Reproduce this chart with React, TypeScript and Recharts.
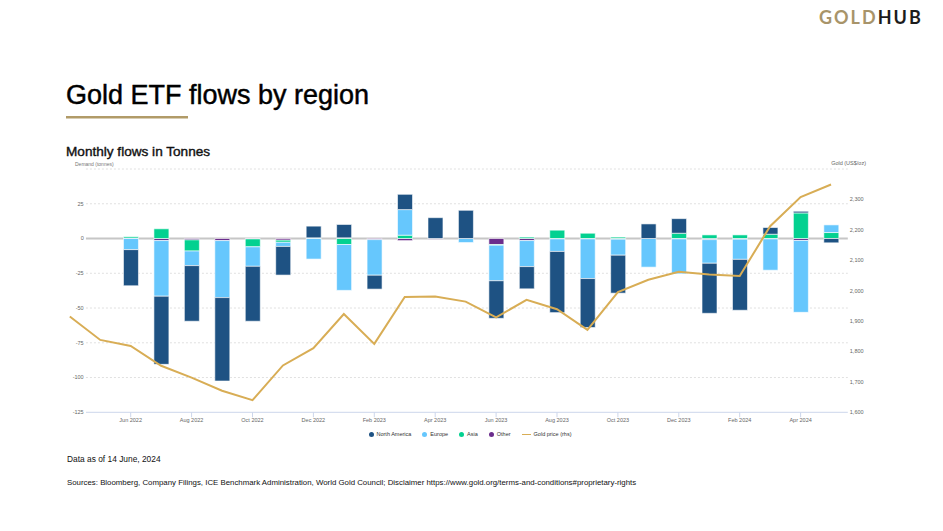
import React from "react";
import { ComposedChart, Bar, Line, XAxis, YAxis, CartesianGrid } from "recharts";

const FONT = "'Liberation Sans', Arial, Helvetica, sans-serif";

// months on the x axis (Apr 2022 only carries a gold price point)
const months = [
  "Apr 2022", "May 2022", "Jun 2022", "Jul 2022", "Aug 2022", "Sep 2022", "Oct 2022",
  "Nov 2022", "Dec 2022", "Jan 2023", "Feb 2023", "Mar 2023", "Apr 2023", "May 2023",
  "Jun 2023", "Jul 2023", "Aug 2023", "Sep 2023", "Oct 2023", "Nov 2023", "Dec 2023",
  "Jan 2024", "Feb 2024", "Mar 2024", "Apr 2024", "May 2024",
];

// monthly flows, tonnes
const northAmerica = [null, null, -26, -49, -40, -60, -39.5, -20.6, 8.4, 9.6, -10, 11, 15, 20.3, -27, -16, -44, -35.2, -27.3, 10.5, 10.5, -36, -36.6, 4.8, 1.2, -3.1];
const europe = [null, null, -8, -40, -10.5, -41, -14, -3, -14.8, -33, -25.6, 18.4, 0, -2.9, -25.6, -18.7, -9, -28.5, -11.5, -20.6, -25.1, -17, -14.5, -22.5, -51.7, 5.5];
const asia = [null, null, 1, 7, -8, 0, -5.7, -1.5, 0.3, -4.3, 0, 2.4, 0, 0, -0.5, 1, 6, 3.8, 1, 0, 3.8, 2.6, 2.6, 3.1, 18.4, 4.3];
const other = [null, null, 0.3, -1.5, -1, -1.5, -0.3, -1.2, 0.2, 0.5, -0.8, -1.5, -0.5, 0, -4.3, -1.5, -0.3, -0.3, -0.5, 0, -0.3, -0.8, -0.5, -0.3, -1.4, 0];

// month-end gold price, US$/oz
const goldPrice = [1915, 1838, 1818, 1753, 1714, 1671, 1640, 1754, 1811, 1923, 1825, 1979, 1981, 1964, 1912, 1970, 1939, 1871, 1995, 2036, 2062, 2053, 2048, 2212, 2308, 2349];

const flowTicks = [-125, -100, -75, -50, -25, 0, 25, 50];
const priceTicks = [1600, 1700, 1800, 1900, 2000, 2100, 2200, 2300, 2400];
const monthTicks = [2, 4, 6, 8, 10, 12, 14, 16, 18, 20, 22, 24];

const series = [
  { key: "na", name: "North America", color: "#1e5283" },
  { key: "eu", name: "Europe", color: "#66c7fd" },
  { key: "asia", name: "Asia", color: "#03d190" },
  { key: "other", name: "Other", color: "#6b2d8c" },
];
const goldColor = "#d8ad55";

const X_DOMAIN = [-0.2, 25.55];
const X_START = 0.53; // where the framed plot begins (month units)

// horizontal grid line: starts at X_START, zero line and base line styled apart
const GridLine = (props: any) => {
  const { x1, x2, y1, index } = props;
  const start = x1 + ((X_START - X_DOMAIN[0]) / (X_DOMAIN[1] - X_DOMAIN[0])) * (x2 - x1);
  const value = flowTicks[index];
  if (value === 0) {
    return <line x1={start} x2={x2} y1={y1} y2={y1} stroke="#c6c6c6" strokeWidth={2} />;
  }
  if (value === -125) {
    return <line x1={start} x2={x2} y1={y1} y2={y1} stroke="#ccd6eb" strokeWidth={1} />;
  }
  return <line x1={start} x2={x2} y1={y1} y2={y1} stroke="#e0e0e0" strokeWidth={1} strokeDasharray="2 2" />;
};

export default function App() {
  const data = months.map((m, i) => ({
    idx: i,
    month: m,
    na: northAmerica[i],
    eu: europe[i],
    asia: asia[i],
    other: other[i],
    gold: goldPrice[i],
  }));

  // first series in the stack sits next to zero
  const stackOrder = [...series].reverse();

  return (
    <div style={{ position: "absolute", left: 0, top: 0, width: 943, height: 531, background: "#fff", fontFamily: FONT }}>
      <svg width={943} height={531} style={{ position: "absolute", left: 0, top: 0 }} fontFamily={FONT}>
        <text x={819} y={24} fontSize={18} fontWeight={700} letterSpacing={2} fontFamily="Lato, sans-serif">
          <tspan fill="#a8946a">GOLD</tspan>
          <tspan fill="#1c1c1c">HUB</tspan>
        </text>
        <text x={66} y={104} fontSize={27} fill="#000" stroke="#000" strokeWidth={0.45}>Gold ETF flows by region</text>
        <rect x={66} y={116} width={122} height={2.5} fill="#b19b68" />
        <text x={66} y={156} fontSize={13.6} fill="#111" stroke="#111" strokeWidth={0.4}>Monthly flows in Tonnes</text>
        <text x={75} y={166} fontSize={5} fill="#777">Demand (tonnes)</text>
        <text x={866} y={165} fontSize={5.5} fill="#666" textAnchor="end">Gold (US$/oz)</text>
        <text x={67} y={462} fontSize={8.4} fill="#111">Data as of 14 June, 2024</text>
        <text x={67} y={485} fontSize={7.85} fill="#111">
          Sources: Bloomberg, Company Filings, ICE Benchmark Administration, World Gold Council; Disclaimer https://www.gold.org/terms-and-conditions#proprietary-rights
        </text>
      </svg>

      <div style={{ position: "absolute", left: 0, top: 0 }}>
        <ComposedChart
          width={943}
          height={531}
          data={data}
          stackOffset="sign"
          margin={{ top: 169, right: 55.2, bottom: 98.7, left: 23.7 }}
        >
          <CartesianGrid
            yAxisId="left"
            vertical={false}
            horizontal={GridLine}
            horizontalValues={flowTicks}
          />
          <XAxis
            dataKey="idx"
            type="number"
            domain={X_DOMAIN}
            ticks={monthTicks}
            interval={0}
            tickFormatter={(v) => months[v]}
            axisLine={false}
            tickLine={{ stroke: "#ccd6eb" }}
            tickSize={5}
            tickMargin={1}
            tick={{ fontSize: 5.5, fill: "#666", fontFamily: FONT }}
            height={20}
          />
          <YAxis
            yAxisId="left"
            domain={[-125, 50]}
            ticks={flowTicks}
            interval={0}
            tickFormatter={(v) => (v === 50 ? "" : String(v))}
            axisLine={false}
            tickLine={false}
            tickSize={0}
            tickMargin={2}
            tick={{ fontSize: 5.5, fill: "#666", fontFamily: FONT, dx: 22 }}
            width={40}
          />
          <YAxis
            yAxisId="right"
            orientation="right"
            domain={[1600, 2400]}
            ticks={priceTicks}
            interval={0}
            tickFormatter={(v) => (v === 2400 ? "" : v.toLocaleString("en-US"))}
            axisLine={false}
            tickLine={false}
            tickSize={0}
            tickMargin={2}
            tick={{ fontSize: 5.5, fill: "#666", fontFamily: FONT }}
            width={40}
          />

          {stackOrder.map((s) => (
            <Bar
              key={s.key}
              yAxisId="left"
              dataKey={s.key}
              name={s.name}
              stackId="flows"
              fill={s.color}
              stroke="#ffffff"
              strokeWidth={0.6}
              barSize={15}
              isAnimationActive={false}
            />
          ))}
          <Line
            yAxisId="right"
            dataKey="gold"
            name="Gold price (rhs)"
            stroke={goldColor}
            strokeWidth={2}
            dot={false}
            activeDot={false}
            isAnimationActive={false}
          />
        </ComposedChart>
      </div>

      <div
        style={{
          position: "absolute",
          left: 0,
          top: 431,
          width: 940,
          display: "flex",
          justifyContent: "center",
          alignItems: "center",
          gap: 11,
          fontSize: 5.5,
          color: "#333",
          lineHeight: "7px",
        }}
      >
        {series.map((s) => (
          <div key={s.key} style={{ display: "flex", alignItems: "center", gap: 3 }}>
            <span style={{ width: 5, height: 5, borderRadius: "50%", background: s.color, display: "inline-block" }} />
            <span>{s.name}</span>
          </div>
        ))}
        <div style={{ display: "flex", alignItems: "center", gap: 3 }}>
          <span style={{ width: 9, height: 1.5, background: goldColor, display: "inline-block" }} />
          <span>Gold price (rhs)</span>
        </div>
      </div>
    </div>
  );
}
